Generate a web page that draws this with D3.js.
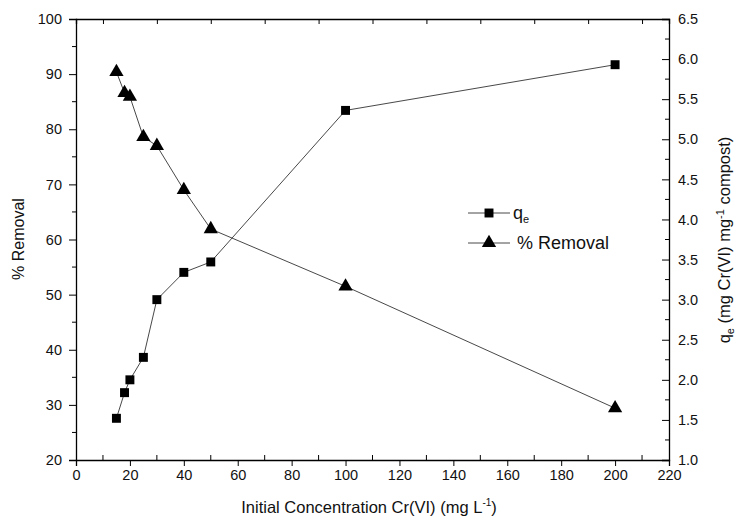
<!DOCTYPE html>
<html>
<head>
<meta charset="utf-8">
<script src="https://cdn.jsdelivr.net/npm/d3@7"></script>
<style>
  html, body { margin: 0; padding: 0; background: #fff; }
  svg { display: block; font-family: "Liberation Sans", Arial, sans-serif; }
</style>
</head>
<body>
<svg id="chart" width="736" height="522"></svg>
<script>
// Initial Cr(VI) concentration (mg/L)
const concentration = [15, 18, 20, 25, 30, 40, 50, 100, 200];
// Equilibrium uptake qe (mg Cr(VI) per mg compost), right axis
const qe = [1.52, 1.84, 2.0, 2.28, 3.0, 3.34, 3.47, 5.36, 5.93];
// Percent removal, left axis
const removal = [90.4, 86.6, 85.9, 78.6, 77.0, 69.0, 61.9, 51.5, 29.4];

const xTicks = [0, 20, 40, 60, 80, 100, 120, 140, 160, 180, 200, 220];
const leftTicks = [20, 30, 40, 50, 60, 70, 80, 90, 100];
const rightTicks = [1.0, 1.5, 2.0, 2.5, 3.0, 3.5, 4.0, 4.5, 5.0, 5.5, 6.0, 6.5];

const svg = d3.select("#chart");
const plotL = 76, plotR = 669, plotT = 19, plotB = 460;

const x = d3.scaleLinear().domain([0, 220]).range([plotL, plotR]);
const yL = d3.scaleLinear().domain([20, 100]).range([plotB, plotT]);
const yR = d3.scaleLinear().domain([1.0, 6.5]).range([plotB, plotT]);

const tickFont = 14.5;

// Bottom axis: major ticks outward, minor ticks inward
const axBottom = svg.append("g").attr("transform", `translate(0,${plotB})`);
axBottom.call(d3.axisBottom(x).tickValues(xTicks).tickSize(6).tickPadding(4).tickFormat(d3.format("d")));
axBottom.selectAll("text").attr("font-size", tickFont).attr("fill", "#111");
axBottom.append("g").selectAll("line")
  .data(d3.range(10, 220, 20)).join("line")
  .attr("x1", d => x(d)).attr("x2", d => x(d)).attr("y1", 0).attr("y2", -5)
  .attr("stroke", "#000");

// Top axis: minor ticks inward only
const axTop = svg.append("g").attr("transform", `translate(0,${plotT})`);
axTop.call(d3.axisTop(x).tickValues(d3.range(10, 220, 20)).tickSize(-5).tickFormat(""));

// Left axis
const axLeft = svg.append("g").attr("transform", `translate(${plotL},0)`);
axLeft.call(d3.axisLeft(yL).tickValues(leftTicks).tickSize(7).tickPadding(7).tickFormat(d3.format("d")));
axLeft.selectAll("text").attr("font-size", tickFont).attr("fill", "#111");
axLeft.append("g").selectAll("line")
  .data(d3.range(25, 100, 10)).join("line")
  .attr("x1", 0).attr("x2", -4).attr("y1", d => yL(d)).attr("y2", d => yL(d))
  .attr("stroke", "#000");

// Right axis: ticks point into the plot
const axRight = svg.append("g").attr("transform", `translate(${plotR},0)`);
axRight.call(d3.axisRight(yR).tickValues(rightTicks).tickSize(-7).tickPadding(9).tickFormat(d3.format(".1f")));
axRight.selectAll("text").attr("font-size", tickFont).attr("fill", "#111");
axRight.append("g").selectAll("line")
  .data(d3.range(1.25, 6.5, 0.5)).join("line")
  .attr("x1", 0).attr("x2", -4).attr("y1", d => yR(d)).attr("y2", d => yR(d))
  .attr("stroke", "#000");

svg.selectAll(".domain").attr("stroke", "#000").attr("stroke-width", 1.3);
svg.selectAll(".tick line").attr("stroke", "#000");

// Series lines
const qeLine = d3.line().x((d, i) => x(concentration[i])).y(d => yR(d));
const remLine = d3.line().x((d, i) => x(concentration[i])).y(d => yL(d));

svg.append("path").datum(qe).attr("d", qeLine)
  .attr("fill", "none").attr("stroke", "#333").attr("stroke-width", 0.9);
svg.append("path").datum(removal).attr("d", remLine)
  .attr("fill", "none").attr("stroke", "#333").attr("stroke-width", 0.9);

const square = d3.symbol().type(d3.symbolSquare).size(80);
const triangle = d3.symbol().type(d3.symbolTriangle).size(88);

svg.append("g").selectAll("path").data(qe).join("path")
  .attr("d", square)
  .attr("transform", (d, i) => `translate(${x(concentration[i])},${yR(d)})`)
  .attr("fill", "#000");

svg.append("g").selectAll("path").data(removal).join("path")
  .attr("d", triangle)
  .attr("transform", (d, i) => `translate(${x(concentration[i])},${yL(d)})`)
  .attr("fill", "#000");

// Legend
const legend = svg.append("g");
const lx1 = 468, lx2 = 510;
legend.append("line").attr("x1", lx1).attr("x2", lx2).attr("y1", 213).attr("y2", 213)
  .attr("stroke", "#333").attr("stroke-width", 0.9);
legend.append("path").attr("d", square).attr("transform", `translate(${(lx1 + lx2) / 2},213)`);
const qeText = legend.append("text").attr("x", 513).attr("y", 219).attr("font-size", 18).attr("fill", "#111");
qeText.append("tspan").text("q");
qeText.append("tspan").attr("font-size", 11).attr("dy", 4).text("e");

legend.append("line").attr("x1", lx1).attr("x2", lx2).attr("y1", 243).attr("y2", 243)
  .attr("stroke", "#333").attr("stroke-width", 0.9);
legend.append("path").attr("d", triangle).attr("transform", `translate(${(lx1 + lx2) / 2},243)`);
legend.append("text").attr("x", 517).attr("y", 249).attr("font-size", 18).attr("fill", "#111")
  .text("% Removal");

// Axis titles
const xTitle = svg.append("text").attr("x", 369).attr("y", 513).attr("text-anchor", "middle")
  .attr("font-size", 16.5).attr("fill", "#111");
xTitle.append("tspan").text("Initial Concentration Cr(VI) (mg L");
xTitle.append("tspan").attr("font-size", 10).attr("dy", -7).text("-1");
xTitle.append("tspan").attr("dy", 7).text(")");

svg.append("text").attr("transform", "translate(24,239) rotate(-90)")
  .attr("text-anchor", "middle").attr("font-size", 16).attr("fill", "#111")
  .text("% Removal");

const yRTitle = svg.append("text").attr("transform", "translate(730,240) rotate(-90)")
  .attr("text-anchor", "middle").attr("font-size", 16.5).attr("fill", "#111");
yRTitle.append("tspan").text("q");
yRTitle.append("tspan").attr("font-size", 11).attr("dy", 4).text("e");
yRTitle.append("tspan").attr("dy", -4).text(" (mg Cr(VI) mg");
yRTitle.append("tspan").attr("font-size", 11).attr("dy", -6).text("-1");
yRTitle.append("tspan").attr("dy", 6).text(" compost)");
</script>
</body>
</html>
